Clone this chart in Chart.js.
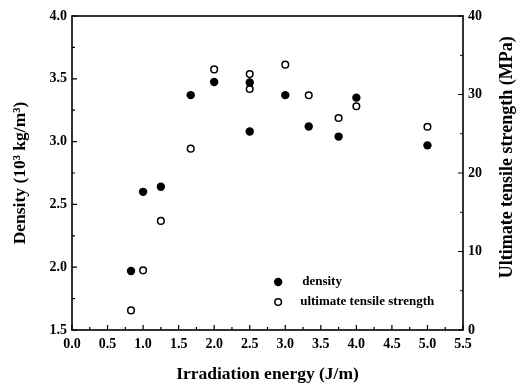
<!DOCTYPE html>
<html>
<head>
<meta charset="utf-8">
<script src="https://cdn.jsdelivr.net/npm/chart.js@4.4.1/dist/chart.umd.min.js"></script>
<style>
html,body{margin:0;padding:0;background:#fff;}
#wrap{width:516px;height:385px;position:relative;}
</style>
</head>
<body>
<div id="wrap"><canvas id="c" width="516" height="385"></canvas></div>
<script>
// Data
const densityEnergy = [0.83, 1.0, 1.25, 1.67, 2.0, 2.5, 2.5, 3.0, 3.33, 3.75, 4.0, 5.0];
const densityValues = [1.97, 2.60, 2.64, 3.37, 3.475, 3.47, 3.08, 3.37, 3.12, 3.04, 3.35, 2.97];
const utsEnergy = [0.83, 1.0, 1.25, 1.67, 2.0, 2.5, 2.5, 3.0, 3.33, 3.75, 4.0, 5.0];
const utsValues = [2.5, 7.6, 13.9, 23.1, 33.2, 32.6, 30.7, 33.8, 29.9, 27.0, 28.5, 25.9];
const xTicks = [0.0, 0.5, 1.0, 1.5, 2.0, 2.5, 3.0, 3.5, 4.0, 4.5, 5.0, 5.5];
const yLeftTicks = [1.5, 2.0, 2.5, 3.0, 3.5, 4.0];
const yRightTicks = [0, 10, 20, 30, 40];
const seriesNames = ['density', 'ultimate tensile strength'];
const xTitle = 'Irradiation energy (J/m)';
const yLeftTitle = 'Density (10³ kg/m³)';
const yRightTitle = 'Ultimate tensile strength (MPa)';

const FONT = "'Liberation Serif', 'DejaVu Serif', serif";

function pts(xs, ys){ return xs.map((x,i)=>({x:x, y:ys[i]})); }

const framePlugin = {
  id: 'frame',
  afterDatasetsDraw(chart){
    const ctx = chart.ctx, a = chart.chartArea;
    const sx = chart.scales.x, yl = chart.scales.y, yr = chart.scales.y2;
    ctx.save();
    ctx.strokeStyle = '#000';
    ctx.lineWidth = 1.6;
    ctx.strokeRect(a.left, a.top, a.right - a.left, a.bottom - a.top);
    ctx.lineWidth = 1.2;
    ctx.beginPath();
    for (let i = 0; i < xTicks.length; i++) {
      const px = sx.getPixelForValue(xTicks[i]);
      ctx.moveTo(px, a.bottom); ctx.lineTo(px, a.bottom - 5);
      if (i < xTicks.length - 1) {
        const m = sx.getPixelForValue((xTicks[i] + xTicks[i+1]) / 2);
        ctx.moveTo(m, a.bottom); ctx.lineTo(m, a.bottom - 3);
      }
    }
    for (let i = 0; i < yLeftTicks.length; i++) {
      const py = yl.getPixelForValue(yLeftTicks[i]);
      ctx.moveTo(a.left, py); ctx.lineTo(a.left + 5, py);
      if (i < yLeftTicks.length - 1) {
        const m = yl.getPixelForValue((yLeftTicks[i] + yLeftTicks[i+1]) / 2);
        ctx.moveTo(a.left, m); ctx.lineTo(a.left + 3, m);
      }
    }
    for (let i = 0; i < yRightTicks.length; i++) {
      const py = yr.getPixelForValue(yRightTicks[i]);
      ctx.moveTo(a.right, py); ctx.lineTo(a.right - 5, py);
      if (i < yRightTicks.length - 1) {
        const m = yr.getPixelForValue((yRightTicks[i] + yRightTicks[i+1]) / 2);
        ctx.moveTo(a.right, m); ctx.lineTo(a.right - 3, m);
      }
    }
    ctx.stroke();

    // legend inside plot
    const lx = sx.getPixelForValue(2.9), ly1 = yl.getPixelForValue(1.882), ly2 = yl.getPixelForValue(1.723);
    ctx.fillStyle = '#000';
    ctx.beginPath(); ctx.arc(lx, ly1, 4.2, 0, Math.PI * 2); ctx.fill();
    ctx.lineWidth = 1.5;
    ctx.beginPath(); ctx.arc(lx, ly2, 3.3, 0, Math.PI * 2); ctx.fillStyle = '#fff'; ctx.fill(); ctx.stroke();
    ctx.fillStyle = '#000';
    ctx.font = "bold 13px " + FONT;
    ctx.textBaseline = 'middle';
    ctx.textAlign = 'left';
    ctx.fillText(seriesNames[0], lx + 24, ly1);
    ctx.fillText(seriesNames[1], lx + 22, ly2);

    // right axis title, reading bottom-to-top
    ctx.save();
    ctx.translate(507, yr.getPixelForValue(22.0));
    ctx.rotate(-Math.PI / 2);
    ctx.textAlign = 'center';
    ctx.textBaseline = 'middle';
    ctx.font = "bold 18px " + FONT;
    ctx.fillText(yRightTitle, 0, 0);
    ctx.restore();
    ctx.restore();
  }
};

Chart.defaults.font.family = FONT;
Chart.defaults.color = '#000';

new Chart(document.getElementById('c'), {
  type: 'scatter',
  data: {
    datasets: [
      {
        label: seriesNames[0],
        data: pts(densityEnergy, densityValues),
        yAxisID: 'y',
        pointRadius: 4.2,
        pointBackgroundColor: '#000',
        pointBorderColor: '#000',
        pointBorderWidth: 0
      },
      {
        label: seriesNames[1],
        data: pts(utsEnergy, utsValues),
        yAxisID: 'y2',
        pointRadius: 3.3,
        pointBackgroundColor: '#fff',
        pointBorderColor: '#000',
        pointBorderWidth: 1.5
      }
    ]
  },
  options: {
    responsive: false,
    animation: false,
    events: [],
    layout: { padding: { top: 16, left: 0, right: 0, bottom: 0 } },
    plugins: { legend: { display: false }, tooltip: { enabled: false } },
    scales: {
      x: {
        type: 'linear', min: 0, max: 5.5,
        afterBuildTicks: s => { s.ticks = xTicks.map(v => ({ value: v })); },
        afterFit: s => { s.height = 55; },
        grid: { display: false, drawTicks: false },
        border: { display: false },
        ticks: { padding: 6, font: { size: 14, weight: 'bold' }, callback: v => Number(v).toFixed(1), maxRotation: 0, autoSkip: false },
        title: { display: true, text: xTitle, font: { size: 17.5, weight: 'bold' }, padding: { top: 1.5, bottom: 0 } }
      },
      y: {
        type: 'linear', position: 'left', min: 1.5, max: 4.0,
        afterBuildTicks: s => { s.ticks = yLeftTicks.map(v => ({ value: v })); },
        afterFit: s => { s.width = 72; },
        grid: { display: false, drawTicks: false },
        border: { display: false },
        ticks: { padding: 5, font: { size: 14, weight: 'bold' }, callback: v => Number(v).toFixed(1), autoSkip: false },
        title: { display: true, text: yLeftTitle, font: { size: 17.5, weight: 'bold' }, padding: { top: 9.5, bottom: 0 } }
      },
      y2: {
        type: 'linear', position: 'right', min: 0, max: 40,
        afterBuildTicks: s => { s.ticks = yRightTicks.map(v => ({ value: v })); },
        afterFit: s => { s.width = 53; },
        grid: { display: false, drawTicks: false },
        border: { display: false },
        ticks: { padding: 5, font: { size: 14, weight: 'bold' }, callback: v => String(v), autoSkip: false },
        title: { display: false }
      }
    }
  },
  plugins: [framePlugin]
});
</script>
</body>
</html>
